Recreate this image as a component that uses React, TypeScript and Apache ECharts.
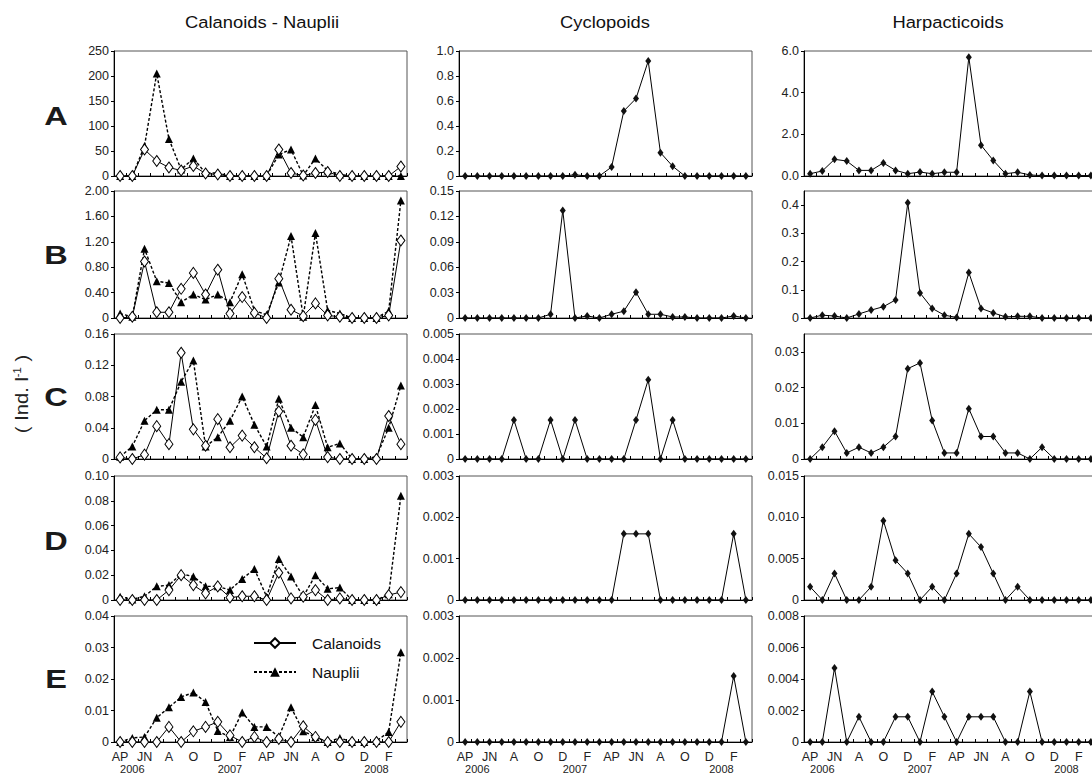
import React, { useEffect, useRef } from 'react';
import * as echarts from 'echarts';

// ---- categories / tick labels ----
const months = ['AP', '', 'JN', '', 'A', '', 'O', '', 'D', '', 'F', '', 'AP', '', 'JN', '', 'A', '', 'O', '', 'D', '', 'F', ''];
const years = ['', '2006', '', '', '', '', '', '', '', '2007', '', '', '', '', '', '', '', '', '', '', '', '2008', '', ''];
const columnTitles = ['Calanoids - Nauplii', 'Cyclopoids', 'Harpacticoids'];
const rowLetters = ['A', 'B', 'C', 'D', 'E'];

// ---- Calanoids & Nauplii (column 1) ----
const calA = [0, 0, 53, 30, 17, 11, 20, 5, 3, 0, 0, 0, 0, 53, 6, 1, 6, 8, 0, 0, 0, 0, 0, 19];
const naupA = [0, 0, 60, 205, 74, 13, 35, 6, 6, 0, 0, 0, 0, 43, 53, 1, 35, 11, 3, 0, 0, 0, 0, 0];
const calB = [0, 0.02, 0.89, 0.09, 0.09, 0.46, 0.71, 0.37, 0.76, 0.07, 0.33, 0.08, 0, 0.62, 0.13, 0.03, 0.23, 0.04, 0.02, 0, 0, 0, 0.04, 1.22];
const naupB = [0.07, 0.02, 1.09, 0.58, 0.55, 0.25, 0.37, 0.29, 0.37, 0.25, 0.69, 0.12, 0.05, 0.56, 1.29, 0.02, 1.34, 0.12, 0.07, 0, 0, 0, 0.11, 1.85];
const calC = [0.002, 0, 0.0055, 0.042, 0.019, 0.136, 0.038, 0.017, 0.051, 0.015, 0.03, 0.015, 0.001, 0.061, 0.017, 0.006, 0.05, 0.0025, 0, 0, 0, 0, 0.055, 0.019];
const naupC = [0.003, 0.016, 0.049, 0.063, 0.063, 0.099, 0.126, 0.016, 0.028, 0.049, 0.08, 0.044, 0.016, 0.077, 0.04, 0.028, 0.069, 0.015, 0.02, 0, 0, 0.003, 0.04, 0.094];
const calD = [0, 0, 0, 0, 0.008, 0.02, 0.012, 0.0054, 0.011, 0.002, 0.003, 0.003, 0, 0.022, 0.0013, 0.0027, 0.008, 0, 0.0013, 0, 0, 0, 0.004, 0.0064];
const naupD = [0.0027, 0.0005, 0.003, 0.011, 0.012, 0.021, 0.019, 0.011, 0.011, 0.008, 0.017, 0.025, 0.0027, 0.033, 0.019, 0.0027, 0.02, 0.009, 0.01, 0, 0, 0, 0.0046, 0.084];
const calE = [0, 0, 0, 0, 0.0048, 0, 0.0034, 0.0048, 0.0064, 0.0021, 0, 0.0016, 0, 0.001, 0, 0.005, 0.0016, 0, 0, 0, 0, 0, 0, 0.0064];
const naupE = [0, 0.0013, 0.0016, 0.0077, 0.011, 0.0143, 0.0157, 0.0127, 0.0035, 0.0016, 0.0094, 0.0048, 0.0048, 0.0016, 0.011, 0.0034, 0.0016, 0, 0.0013, 0, 0, 0.0003, 0.0032, 0.0285];

// ---- Cyclopoids (column 2) ----
const cycA = [0, 0, 0, 0, 0, 0, 0, 0, 0, 0.01, 0, 0, 0.072, 0.52, 0.62, 0.92, 0.187, 0.078, 0, 0, 0, 0, 0, 0];
const cycB = [0, 0, 0, 0, 0, 0, 0, 0.0044, 0.127, 0, 0.0024, 0, 0.0044, 0.008, 0.0305, 0.0044, 0.0044, 0.0012, 0.0012, 0, 0, 0, 0.0024, 0];
const cycC = [0, 0, 0, 0, 0.00156, 0, 0, 0.00156, 0, 0.00156, 0, 0, 0, 0, 0.00156, 0.00317, 0, 0.00156, 0, 0, 0, 0, 0, 0];
const cycD = [0, 0, 0, 0, 0, 0, 0, 0, 0, 0, 0, 0, 0, 0.0016, 0.0016, 0.0016, 0, 0, 0, 0, 0, 0, 0.0016, 0];
const cycE = [0, 0, 0, 0, 0, 0, 0, 0, 0, 0, 0, 0, 0, 0, 0, 0, 0, 0, 0, 0, 0, 0, 0.00157, 0];

// ---- Harpacticoids (column 3) ----
const harA = [0.11, 0.24, 0.8, 0.72, 0.27, 0.27, 0.63, 0.27, 0.11, 0.19, 0.11, 0.18, 0.18, 5.7, 1.48, 0.75, 0.11, 0.18, 0.05, 0.02, 0.02, 0.02, 0.02, 0.02];
const harB = [0, 0.01, 0.007, 0, 0.0145, 0.028, 0.04, 0.064, 0.408, 0.089, 0.034, 0.01, 0.002, 0.161, 0.034, 0.018, 0.004, 0.006, 0.006, 0, 0, 0, 0, 0];
const harC = [0, 0.0033, 0.0078, 0.0017, 0.0033, 0.0017, 0.0033, 0.0063, 0.0253, 0.0269, 0.0108, 0.0017, 0.0017, 0.0141, 0.0063, 0.0063, 0.0017, 0.0017, 0, 0.0033, 0, 0, 0, 0];
const harD = [0.0016, 0, 0.0032, 0, 0, 0.0016, 0.0096, 0.0048, 0.0032, 0, 0.0016, 0, 0.0032, 0.008, 0.0064, 0.0032, 0, 0.0016, 0, 0, 0, 0, 0, 0];
const harE = [0, 0, 0.0047, 0, 0.0016, 0, 0, 0.0016, 0.0016, 0, 0.0032, 0.0016, 0, 0.0016, 0.0016, 0.0016, 0, 0, 0.0032, 0, 0, 0, 0, 0];

// ---- y-axis scales (row x column) ----
const yMax = [[250, 1.0, 6], [2, 0.15, 0.45], [0.16, 0.005, 0.035], [0.1, 0.003, 0.015], [0.04, 0.003, 0.008]];
const yStep = [[50, 0.2, 2], [0.4, 0.03, 0.1], [0.04, 0.001, 0.01], [0.02, 0.001, 0.005], [0.01, 0.001, 0.002]];
const yDecimals = [[0, 1, 1], [2, 2, 1], [2, 3, 2], [2, 3, 3], [2, 3, 3]];
const yZeroLabel = [['0', '0', '0.0'], ['0', '0', '0'], ['0', '0', '0'], ['0', '0', '0'], ['0', '0', '0']];
const yHideMax = [[false, false, false], [false, false, true], [false, false, true], [false, false, false], [false, false, false]];

const calanoids = [calA, calB, calC, calD, calE];
const nauplii = [naupA, naupB, naupC, naupD, naupE];
const cyclopoids = [cycA, cycB, cycC, cycD, cycE];
const harpacticoids = [harA, harB, harC, harD, harE];

export default function App() {
  const ref = useRef<HTMLDivElement>(null);
  useEffect(() => {
    const chart = echarts.init(ref.current!, null, { renderer: 'svg' });
    const FONT = "'Liberation Sans', Arial, sans-serif";
    const colX = [114, 459, 804];
    const colW = 293;
    const rowY = [51, 191, 334, 476, 616];
    const rowH = [125, 127, 125, 124, 126];

    const grids: any[] = [];
    const xAxes: any[] = [];
    const yAxes: any[] = [];
    const series: any[] = [];
    let gi = 0;
    for (let r = 0; r < 5; r++) {
      for (let c = 0; c < 3; c++) {
        grids.push({
          left: colX[c], top: rowY[r], width: colW, height: rowH[r],
          show: true, borderColor: '#555', borderWidth: 1, backgroundColor: 'transparent',
          containLabel: false, outerBoundsMode: 'none',
        });
        const xi = xAxes.length;
        xAxes.push({
          type: 'category', gridIndex: gi, data: months, boundaryGap: true, position: 'bottom',
          axisLine: { show: true, onZero: false, lineStyle: { color: '#000', width: 1 } },
          axisTick: { show: true, inside: true, length: 3, interval: 0, lineStyle: { color: '#000' } },
          axisLabel: { show: r === 4, interval: 0, fontSize: 12.5, color: '#222', fontFamily: FONT, margin: 8 },
          splitLine: { show: false },
        });
        if (r === 4) {
          xAxes.push({
            type: 'category', gridIndex: gi, data: years, boundaryGap: true, position: 'bottom',
            axisLine: { show: false }, axisTick: { show: false }, splitLine: { show: false },
            axisLabel: { show: true, interval: 0, fontSize: 11, color: '#222', fontFamily: FONT, margin: 21 },
          });
        }
        const dec = yDecimals[r][c];
        const zero = yZeroLabel[r][c];
        const mx = yMax[r][c];
        const hide = yHideMax[r][c];
        yAxes.push({
          type: 'value', gridIndex: gi, min: 0, max: mx, interval: yStep[r][c],
          axisLine: { show: true, lineStyle: { color: '#000', width: 1 } },
          axisTick: { show: true, length: 3, lineStyle: { color: '#000' } },
          splitLine: { show: false },
          axisLabel: {
            fontSize: 12.5, color: '#222', fontFamily: FONT, margin: 5, showMaxLabel: !hide,
            formatter: (v: number) => {
              if (Math.abs(v) < 1e-12) return zero;
              if (hide && Math.abs(v - mx) < 1e-9) return '';
              return v.toFixed(dec);
            },
          },
        });
        if (c === 0) {
          series.push({
            name: 'Nauplii', type: 'line', xAxisIndex: xi, yAxisIndex: gi, data: nauplii[r],
            symbol: 'triangle', symbolSize: 8, showAllSymbol: true,
            itemStyle: { color: '#000' },
            lineStyle: { color: '#000', width: 1.4, type: [3, 2] },
          });
          series.push({
            name: 'Calanoids', type: 'line', xAxisIndex: xi, yAxisIndex: gi, data: calanoids[r],
            symbol: 'diamond', symbolSize: [8, 11], showAllSymbol: true,
            itemStyle: { color: '#fff', borderColor: '#000', borderWidth: 1 },
            lineStyle: { color: '#000', width: 1 },
          });
        } else {
          const d = c === 1 ? cyclopoids[r] : harpacticoids[r];
          series.push({
            name: (c === 1 ? 'Cyclopoids ' : 'Harpacticoids ') + rowLetters[r], type: 'line',
            xAxisIndex: xi, yAxisIndex: gi, data: d,
            symbol: 'diamond', symbolSize: [6, 8], showAllSymbol: true,
            itemStyle: { color: '#111' },
            lineStyle: { color: '#000', width: 1 },
          });
        }
        gi++;
      }
    }

    const graphics: any[] = [];
    const titleX = [262, 605, 948];
    columnTitles.forEach((t, i) => {
      graphics.push({
        type: 'text', x: titleX[i], y: 22, scaleX: 1.08,
        style: { text: t, fontSize: 17, fontFamily: FONT, fill: '#111', align: 'center', verticalAlign: 'middle' },
      });
    });
    const letterY = [116, 255, 397, 541, 679];
    rowLetters.forEach((t, i) => {
      graphics.push({
        type: 'text', x: 56, y: letterY[i], scaleX: 1.25,
        style: { text: t, fontSize: 26, fontWeight: 'bold', fontFamily: FONT, fill: '#1a1a1a', align: 'center', verticalAlign: 'middle' },
      });
    });
    graphics.push({
      type: 'text', x: 22, y: 394, rotation: Math.PI / 2, scaleX: 1.12,
      style: {
        text: '{a|( Ind. l}{s|-1}{a| )}',
        rich: {
          a: { fontSize: 18, fontFamily: FONT, fill: '#222', lineHeight: 20 },
          s: { fontSize: 10, fontFamily: FONT, fill: '#222', verticalAlign: 'top', lineHeight: 20 },
        },
        align: 'center', verticalAlign: 'middle',
      },
    });

    chart.setOption({
      animation: false,
      backgroundColor: '#fff',
      grid: grids,
      xAxis: xAxes,
      yAxis: yAxes,
      series,
      legend: {
        data: ['Calanoids', 'Nauplii'], orient: 'vertical', left: 248, top: 630,
        itemWidth: 42, itemHeight: 12, itemGap: 13, selectedMode: false,
        textStyle: { fontSize: 15.5, color: '#111', fontFamily: FONT, padding: [0, 0, 0, 11] },
      },
      graphic: graphics,
    });
    return () => chart.dispose();
  }, []);
  return <div ref={ref} style={{ position: 'fixed', left: 0, top: 0, width: 1092, height: 773, background: '#fff' }} />;
}
